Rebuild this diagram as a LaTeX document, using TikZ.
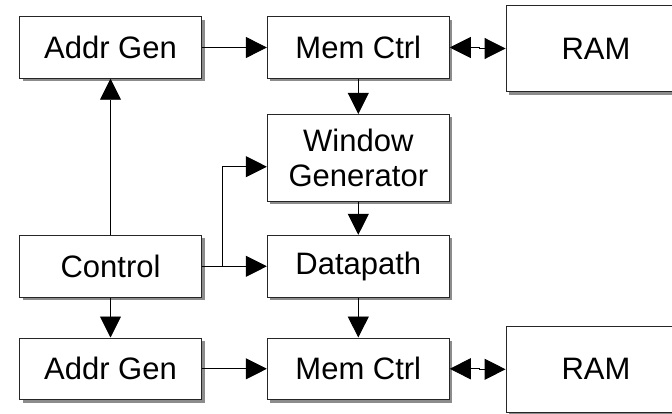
\documentclass[tikz,border=0pt]{standalone}
\usepackage{fontspec}
\setmainfont{Liberation Sans}
\usetikzlibrary{arrows.meta,shadows}

\tikzset{
  block/.style={draw=black!85, line width=0.9pt, fill=white, inner sep=0pt,
    align=center, font=\fontsize{31}{35}\selectfont,
    drop shadow={shadow xshift=3pt, shadow yshift=-3pt, fill=black!45, opacity=1}},
  narrow/.style={block, minimum width=182pt},
  wide/.style={block, minimum width=180pt},
  flow/.style={line width=0.9pt, -{Triangle[length=21pt,width=21pt]}},
  duplex/.style={line width=0.9pt, {Triangle[length=21pt,width=21pt]}-{Triangle[length=21pt,width=21pt]}}
}

\begin{document}
\begin{tikzpicture}[x=1pt,y=1pt]
  \useasboundingbox (0,0) rectangle (672,413);
  \fill[white] (0,0) rectangle (672,413);

  % blocks, first read path
  \node[narrow, minimum height=61.6pt] (ag1)  at (110.5,365.5) {Addr Gen};
  \node[narrow, minimum height=61.6pt] (mc1)  at (358.3,365.5) {Mem Ctrl};
  \node[wide,   minimum height=86.4pt] (ram1) at (596,364.5)   {RAM};

  % processing chain
  \node[narrow, minimum height=86.7pt] (wg)   at (358.3,255.3) {Window\\Generator};
  \node[narrow, minimum height=62pt]   (ctrl) at (110.5,146.7) {Control};
  \node[narrow, minimum height=62pt]   (dp)   at (358.3,146.7) {Datapath};

  % blocks, second memory path
  \node[narrow, minimum height=61.7pt] (ag2)  at (110.5,44.2)  {Addr Gen};
  \node[narrow, minimum height=61.7pt] (mc2)  at (358.3,44.2)  {Mem Ctrl};
  \node[wide,   minimum height=86pt]   (ram2) at (596,43.7)    {RAM};

  % connectors
  \draw[flow] (ag1) -- (mc1);
  \draw[duplex] (mc1.east) -- ++(30,0) |- (ram1.west);
  \draw[flow] (mc1) -- (wg);
  \draw[flow] (wg) -- (dp);
  \draw[flow] (ctrl) -- (dp);
  \draw[flow] (ctrl.east) -- ++(20,0) |- ([yshift=-9pt]wg.west);
  \draw[flow] (ctrl) -- (ag1);
  \draw[flow] (ctrl) -- (ag2);
  \draw[flow] (dp) -- (mc2);
  \draw[flow] (ag2) -- (mc2);
  \draw[duplex] (mc2.east) -- ++(30,0) |- (ram2.west);
\end{tikzpicture}
\end{document}
